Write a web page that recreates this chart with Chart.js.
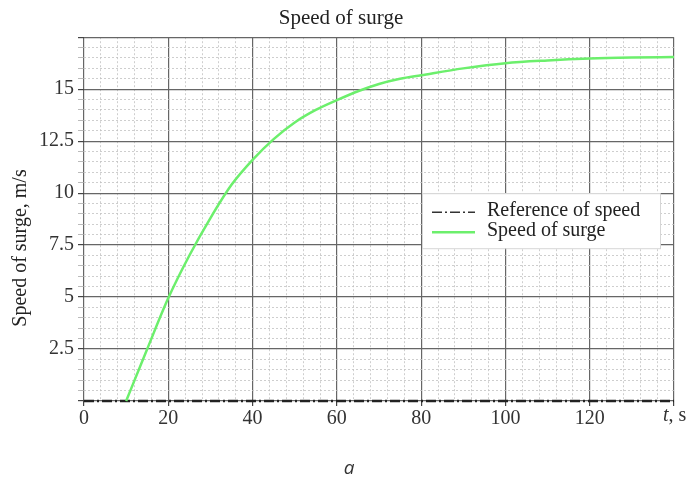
<!DOCTYPE html>
<html>
<head>
<meta charset="utf-8">
<script src="https://cdn.jsdelivr.net/npm/chart.js@4.4.1/dist/chart.umd.min.js"></script>
<style>
  html, body { margin: 0; padding: 0; background: #fff; }
  #wrap { width: 686px; height: 483px; }
</style>
</head>
<body>
<div id="wrap"><canvas id="surge"></canvas></div>
<script>
// time axis (s) and simulated surge speed (m/s)
const times = [10, 15, 20, 25, 30, 35, 40, 45, 50, 55, 60, 65, 70, 75, 80, 90, 100, 110, 120, 130, 140];
const surgeSpeed = [0, 2.5, 4.95, 7.0, 8.8, 10.4, 11.6, 12.6, 13.4, 14.0, 14.47, 14.9, 15.25, 15.5, 15.67, 16.0, 16.25, 16.38, 16.47, 16.52, 16.55];

// reference speed
const refTimes = [0, 140];
const refSpeed = [0, 0];

// labelled ticks
const xTickLabels = [0, 20, 40, 60, 80, 100, 120];
const yTickLabels = [2.5, 5, 7.5, 10, 12.5, 15];

const serif = "'Liberation Serif', 'Times New Roman', serif";
const green = "#6cef6c";
const dashDot = [10, 3, 2, 3];

function toPoints(xs, ys) {
  return xs.map((x, i) => ({ x: x, y: ys[i] }));
}

function isMajor(value, step) {
  return Math.abs(value / step - Math.round(value / step)) < 1e-6;
}

const extras = {
  id: "extras",
  afterDraw(chart) {
    const ctx = chart.ctx;
    const area = chart.chartArea;
    ctx.save();

    // y axis name, sits a bit below the middle of the axis
    ctx.save();
    ctx.translate(21, 248);
    ctx.rotate(-Math.PI / 2);
    ctx.textAlign = "center";
    ctx.textBaseline = "middle";
    ctx.fillStyle = "#222";
    ctx.font = "20px " + serif;
    ctx.fillText("Speed of surge, m/s", 0, 0);
    ctx.restore();

    // axis name at the end of the time axis
    ctx.fillStyle = "#333";
    ctx.textBaseline = "middle";
    ctx.textAlign = "left";
    ctx.font = "italic 20px " + serif;
    const tx = area.right - 11;
    const ty = area.bottom + 15;
    ctx.fillText("t", tx, ty);
    const tw = ctx.measureText("t").width;
    ctx.font = "20px " + serif;
    ctx.fillText(", s", tx + tw, ty);

    // legend box
    const lx = area.right - 252, ly = area.top + 156, lw = 238, lh = 55;
    ctx.fillStyle = "#fff";
    ctx.fillRect(lx, ly, lw, lh);
    ctx.strokeStyle = "#d6d6d6";
    ctx.lineWidth = 1;
    ctx.strokeRect(lx + 0.5, ly + 0.5, lw, lh);

    ctx.strokeStyle = "#333";
    ctx.lineWidth = 1.5;
    ctx.setLineDash(dashDot);
    ctx.beginPath();
    ctx.moveTo(lx + 10, ly + 19);
    ctx.lineTo(lx + 53, ly + 19);
    ctx.stroke();

    ctx.setLineDash([]);
    ctx.strokeStyle = green;
    ctx.lineWidth = 2.5;
    ctx.beginPath();
    ctx.moveTo(lx + 10, ly + 39);
    ctx.lineTo(lx + 53, ly + 39);
    ctx.stroke();

    ctx.fillStyle = "#222";
    ctx.font = "20px " + serif;
    ctx.textAlign = "left";
    ctx.fillText("Reference of speed", lx + 65, ly + 18);
    ctx.fillText("Speed of surge", lx + 65, ly + 38);

    // panel letter
    ctx.font = "italic 19px 'Open Sans', sans-serif";
    ctx.textAlign = "center";
    ctx.fillStyle = "#333";
    ctx.fillText("a", 349, 469);
    ctx.restore();
  }
};

const data = {
  datasets: [
    {
      label: "Speed of surge",
      data: toPoints(times, surgeSpeed),
      borderColor: green,
      backgroundColor: green,
      borderWidth: 2.5,
      showLine: true,
      pointRadius: 0,
      cubicInterpolationMode: "monotone",
      clip: 4
    },
    {
      label: "Reference of speed",
      data: toPoints(refTimes, refSpeed),
      borderColor: "#222",
      backgroundColor: "#222",
      borderWidth: 2.5,
      borderDash: dashDot,
      showLine: true,
      pointRadius: 0,
      clip: 4
    }
  ]
};

const options = {
  responsive: true,
  maintainAspectRatio: false,
  animation: false,
  layout: {
    padding: { left: 8, right: 12, top: 0, bottom: 52 }
  },
  scales: {
    x: {
      type: "linear",
      min: 0,
      max: 140,
      afterFit(scale) { scale.height = 30; },
      ticks: {
        stepSize: 4,
        autoSkip: false,
        maxRotation: 0,
        padding: 1,
        color: "#333",
        font: { family: serif, size: 20 },
        callback: function(value) {
          return xTickLabels.includes(value) ? String(value) : "";
        }
      },
      grid: {
        color: function(c) {
          const v = c.tick ? c.tick.value : 0;
          return (isMajor(v, 20) || v === 140) ? "#666" : "#c2c2c2";
        },
        lineWidth: function(c) {
          const v = c.tick ? c.tick.value : 0;
          return (isMajor(v, 20) || v === 140) ? 1.2 : 0.8;
        },
        tickLength: 5,
        tickColor: function(c) {
          const v = c.tick ? c.tick.value : 0;
          return isMajor(v, 20) ? "#444" : "rgba(0,0,0,0)";
        }
      },
      border: {
        display: false,
        dash: function(c) {
          if (!c.tick) return [];
          const v = c.tick.value;
          return (isMajor(v, 20) || v === 140) ? [] : [2, 2];
        }
      }
    },
    y: {
      min: 0,
      max: 17.5,
      afterFit(scale) { scale.width = 76; },
      ticks: {
        stepSize: 0.5,
        autoSkip: false,
        padding: 4,
        color: "#333",
        font: { family: serif, size: 20 },
        callback: function(value) {
          return yTickLabels.includes(value) ? String(value) : "";
        }
      },
      grid: {
        color: function(c) {
          const v = c.tick ? c.tick.value : 0;
          return (isMajor(v, 2.5) || v === 17.5) ? "#666" : "#c2c2c2";
        },
        lineWidth: function(c) {
          const v = c.tick ? c.tick.value : 0;
          return (isMajor(v, 2.5) || v === 17.5) ? 1.2 : 0.8;
        },
        tickLength: 6,
        tickColor: function(c) {
          const v = c.tick ? c.tick.value : 0;
          return isMajor(v, 2.5) ? "#444" : "#aaa";
        }
      },
      border: {
        display: false,
        dash: function(c) {
          if (!c.tick) return [];
          const v = c.tick.value;
          return (isMajor(v, 2.5) || v === 17.5) ? [] : [2, 2];
        }
      }
    }
  },
  plugins: {
    legend: { display: false },
    tooltip: { enabled: false },
    title: {
      display: true,
      text: "Speed of surge",
      color: "#222",
      font: { family: serif, size: 21, weight: "normal" },
      padding: { top: 6, bottom: 6 }
    }
  }
};

new Chart(document.getElementById("surge").getContext("2d"), {
  type: "scatter",
  data: data,
  options: options,
  plugins: [extras]
});
</script>
</body>
</html>
